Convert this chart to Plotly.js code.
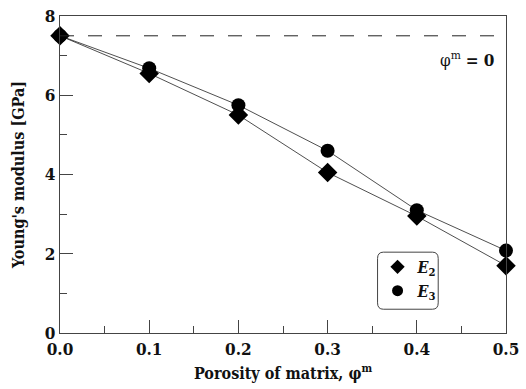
<!DOCTYPE html>
<html><head><meta charset="utf-8">
<script src="https://cdn.plot.ly/plotly-3.0.1.min.js"></script>
<style>html,body{margin:0;padding:0;background:#fff}</style>
</head><body><div id="chart" style="width:526px;height:389px"></div>
<script>
const porosity = [0.0, 0.1, 0.2, 0.3, 0.4, 0.5];
const E2 = [7.5, 6.55, 5.5, 4.05, 2.95, 1.7];
const E3 = [7.5, 6.68, 5.75, 4.6, 3.1, 2.08];
const refValue = 7.5;
const xTickVals = [0, 0.1, 0.2, 0.3, 0.4, 0.5];
const xTickText = ['0.0', '0.1', '0.2', '0.3', '0.4', '0.5'];
const yTickVals = [0, 2, 4, 6, 8];

const font = '"DejaVu Serif Condensed", "DejaVu Serif", serif';
const traces = [
  {x: porosity, y: E2, mode: 'lines+markers', cliponaxis: false, showlegend: false,
   line: {color: '#222', width: 0.8}, marker: {symbol: 'diamond', size: 15, color: '#000'}},
  {x: porosity, y: E3, mode: 'lines+markers', cliponaxis: false, showlegend: false,
   line: {color: '#222', width: 0.8}, marker: {symbol: 'circle', size: 14, color: '#000'}},
  {x: [0, 0.5], y: [refValue, refValue], mode: 'lines', showlegend: false, hoverinfo: 'skip',
   line: {color: '#222', width: 1, dash: '14px,14px'}},
  {x: [null], y: [null], name: '<b><i>E</i><sub>2</sub></b>', mode: 'markers',
   marker: {symbol: 'diamond', size: 11, color: '#000'}},
  {x: [null], y: [null], name: '<b><i>E</i><sub>3</sub></b>', mode: 'markers',
   marker: {symbol: 'circle', size: 11, color: '#000'}}
];
const layout = {
  width: 526, height: 389,
  margin: {l: 60, r: 20, t: 16, b: 56},
  paper_bgcolor: '#fff', plot_bgcolor: '#fff',
  font: {family: font, color: '#111', size: 16},
  showlegend: true,
  legend: {x: 0.712, y: 0.262, xanchor: 'left', yanchor: 'top', bgcolor: 'rgba(0,0,0,0)',
           borderwidth: 0, font: {family: font, size: 16, color: '#111'}, tracegroupgap: 0, itemwidth: 30},
  xaxis: {range: [0, 0.5], tickvals: xTickVals, ticktext: xTickText, ticks: 'inside', ticklen: 13,
          tickwidth: 1, tickcolor: '#444', showgrid: false, zeroline: false, showline: true, mirror: true,
          linecolor: '#444', linewidth: 1.2,
          tickfont: {family: font, size: 17, color: '#111', weight: 'bold'},
          minor: {tickvals: [0.05, 0.15, 0.25, 0.35, 0.45], ticks: 'inside', ticklen: 7, tickcolor: '#444'},
          title: {text: '<b>Porosity of matrix, φ<sup>m</sup></b>', font: {family: font, size: 16, color: '#111'}, standoff: 10}},
  yaxis: {range: [0, 8], tickvals: yTickVals, ticks: 'inside', ticklen: 13, tickwidth: 1, tickcolor: '#444',
          showgrid: false, zeroline: false, showline: true, mirror: true, linecolor: '#444', linewidth: 1.2,
          tickfont: {family: font, size: 17, color: '#111', weight: 'bold'},
          minor: {tickvals: [1, 3, 5, 7], ticks: 'inside', ticklen: 7, tickcolor: '#444'},
          title: {text: "<b>Young's modulus [GPa]</b>", font: {family: font, size: 16, color: '#111'}, standoff: 16}},
  shapes: [
    {type: 'path', xref: 'paper', yref: 'paper', line: {color: '#444', width: 1},
     path: 'M 0.725,0.255 L 0.835,0.255 Q 0.848,0.255 0.848,0.235 L 0.848,0.095 Q 0.848,0.075 0.835,0.075 L 0.725,0.075 Q 0.712,0.075 0.712,0.095 L 0.712,0.235 Q 0.712,0.255 0.725,0.255 Z'}
  ],
  annotations: [
    {xref: 'paper', yref: 'paper', x: 0.98, y: 0.865, xanchor: 'right', yanchor: 'middle', showarrow: false,
     text: 'φ<sup>m</sup> <b>= 0</b>', font: {family: font, size: 17, color: '#111'}}
  ]
};
Plotly.newPlot('chart', traces, layout, {displayModeBar: false, staticPlot: true});
</script></body></html>
